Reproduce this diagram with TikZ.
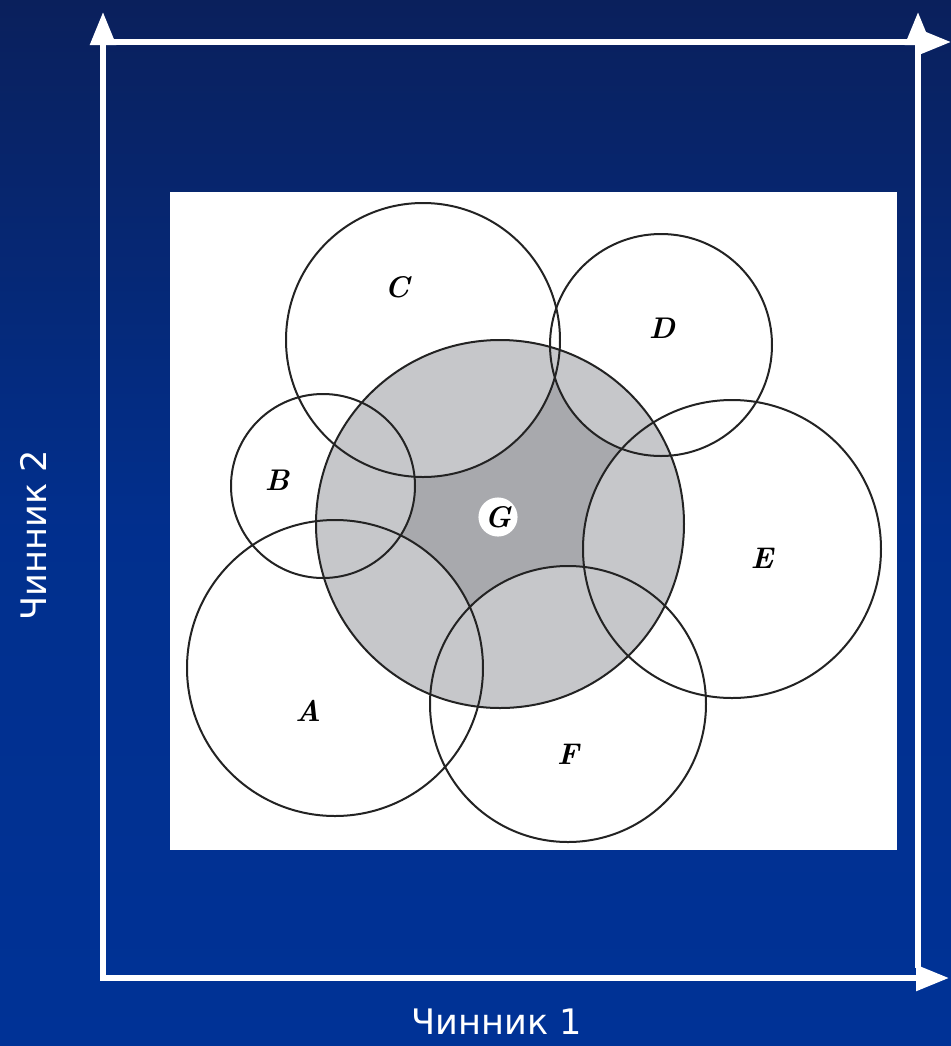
\documentclass[tikz,border=0pt]{standalone}
\usepackage{fontspec}
\usepackage{tikz}
\usetikzlibrary{arrows.meta}
\newfontfamily\labelfont{DejaVu Sans}
\definecolor{navytop}{RGB}{10,32,92}
\definecolor{navybot}{RGB}{0,50,150}
\definecolor{lightshade}{RGB}{198,199,202}
\definecolor{darkshade}{RGB}{168,169,173}
\definecolor{inkline}{RGB}{35,35,35}
\tikzset{
    axis/.style={white, line width=0.11cm, -{Triangle[length=0.66cm, width=0.5cm]}},
    ring/.style={draw=inkline, line width=0.04cm},
    letter/.style={font=\fontsize{17}{20}\selectfont\bfseries\itshape, text=black},
    factor/.style={white, font=\labelfont\fontsize{20}{24}\selectfont}
}

\begin{document}
\begin{tikzpicture}[x=0.02cm, y=0.02cm]
            % background
            \shade[top color=navytop, bottom color=navybot, middle color=navybot!85!navytop]
                (0,0) rectangle (951,-1046);
            \useasboundingbox (0,0) rectangle (951,-1046);
            
            % white panel
            \fill[white] (170,-192) rectangle (897,-850);
            
            % circle centres
            \coordinate (G) at (500,-524);
            \coordinate (A) at (335,-668);
            \coordinate (B) at (323,-486);
            \coordinate (C) at (423,-340);
            \coordinate (D) at (661,-345);
            \coordinate (E) at (732,-549);
            \coordinate (F) at (568,-704);
            
            % G shading
            \fill[darkshade] (G) circle[radius=184];
            \begin{scope}
                \clip (G) circle[radius=184];
                \foreach \c/\r in {A/148, B/92, C/137, D/111, E/149, F/138}
                    \fill[lightshade] (\c) circle[radius=\r];
            \end{scope}
            
            % outlines
            \foreach \c/\r in {G/184, A/148, B/92, C/137, D/111, E/149, F/138}
                \draw[ring] (\c) circle[radius=\r];
            
            % letters
            \node[letter] (la) at (308,-711) {A};
            \node[letter] (lb) at (277,-480) {B};
            \node[letter] (lc) at (397,-287) {C};
            \node[letter] (ld) at (662,-328) {D};
            \node[letter] (le) at (762,-558) {E};
            \node[letter] (lf) at (568,-754) {F};
            \node[letter, circle, fill=white, inner sep=1pt, minimum size=0.56cm] (lg) at (498,-517) {G};
            
            % axes
            \coordinate (O) at (103,-978);
            \coordinate (Oy) at (103,-12);
            \coordinate (Ox) at (949,-978);
            \coordinate (T) at (101,-42);
            \coordinate (Tx) at (951,-42);
            \coordinate (R) at (918,-968);
            \coordinate (Ry) at (918,-12);
            \draw[axis] ([yshift=-0.05cm]O) -- (Oy);
            \draw[axis] ([xshift=-0.05cm]O) -- (Ox);
            \draw[axis] (T) -- (Tx);
            \draw[axis] (R) -- (Ry);
            
            \node[factor] (f1) at (497,-1022) {Чинник 1};
            \node[factor, rotate=90] (f2) at (33,-535) {Чинник 2};
        \end{tikzpicture}
\end{document}
